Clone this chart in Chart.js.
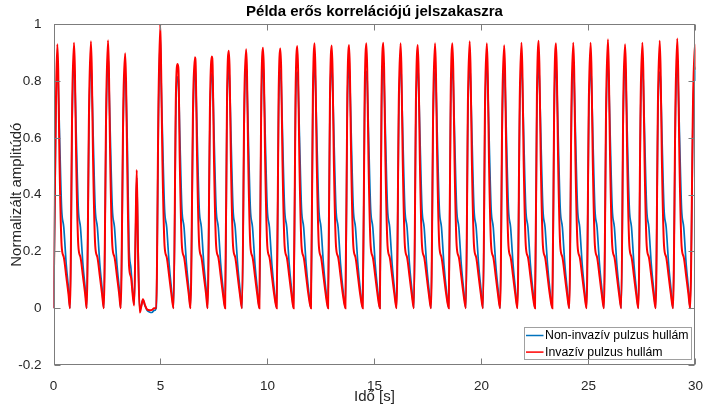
<!DOCTYPE html>
<html lang="hu">
<head>
    <meta charset="UTF-8">
    <title>Példa erős korrelációjú jelszakaszra</title>
    <script src="https://cdn.jsdelivr.net/npm/chart.js"></script>
    <style>
        html, body { margin: 0; padding: 0; background: #fff; }
        canvas { display: block; }
    </style>
</head>
<body>

<canvas id="pulseChart" width="708" height="408"></canvas>

<script>
    // beat onsets and peaks (s)
    const beatStart = [0, 0.77, 1.55, 2.35, 3.14, 4.80, 5.61, 6.40, 7.20, 8.02,
        8.81, 9.62, 10.43, 11.22, 12.03, 12.83, 13.64, 14.45, 15.25, 16.03,
        16.84, 17.64, 18.47, 19.27, 20.07, 20.87, 21.68, 22.50, 23.31, 24.10,
        24.91, 25.72, 26.53, 27.33, 28.14, 28.95, 29.75];
    const beatPeak = [0.18, 0.96, 1.75, 2.55, 3.35, 4.99, 5.80, 6.61, 7.40, 8.19,
        9.00, 9.79, 10.60, 11.39, 12.20, 13.00, 13.81, 14.62, 15.41, 16.22,
        17.02, 17.83, 18.64, 19.45, 20.25, 21.06, 21.87, 22.67, 23.48, 24.29,
        25.10, 25.91, 26.71, 27.52, 28.33, 29.15, 29.97];

    // peak heights: invasive (red) and non-invasive (blue)
    const redPeak = [0.93, 0.935, 0.94, 0.944, 0.898, 1.0, 0.86, 0.884, 0.887, 0.907,
        0.912, 0.917, 0.915, 0.924, 0.933, 0.925, 0.927, 0.933, 0.935, 0.933,
        0.927, 0.933, 0.933, 0.94, 0.933, 0.926, 0.935, 0.942, 0.933, 0.935,
        0.935, 0.947, 0.93, 0.935, 0.942, 0.95, 0.93];
    const bluePeak = [0.86, 0.847, 0.86, 0.89, 0.827, 0.96, 0.815, 0.85, 0.828, 0.84,
        0.851, 0.859, 0.84, 0.832, 0.859, 0.862, 0.853, 0.835, 0.863, 0.865,
        0.859, 0.84, 0.848, 0.859, 0.862, 0.84, 0.848, 0.853, 0.853, 0.848,
        0.842, 0.859, 0.859, 0.856, 0.832, 0.86, 0.85];

    // upstroke just before a peak: seconds before the peak and the level there
    const riseOffset = 0.08;
    const redRise = 0.75;
    const blueRise = 0.70;

    // decay after a peak: seconds after the peak and the level there
    const fallOffset = [0.04, 0.10, 0.20, 0.30, 0.42, 0.52];
    const redFall = [0.84, 0.52, 0.22, 0.18, 0.11, 0.05];
    const blueFall = [0.80, 0.62, 0.35, 0.285, 0.15, 0.07];

    // disturbed stretch after the 5th beat (3.4 s .. 4.8 s)
    const gapAfterBeat = 4;
    const gapTime = [3.39, 3.45, 3.53, 3.62, 3.71, 3.77, 3.84, 3.89, 3.95, 4.03,
        4.10, 4.18, 4.27, 4.38, 4.50, 4.60, 4.70];
    const gapRed = [0.80, 0.48, 0.15, 0.11, 0.04, 0.01, 0.30, 0.487, 0.20, -0.015,
        0.005, 0.032, 0.012, -0.005, -0.007, -0.006, 0.0];
    const gapBlue = [0.77, 0.58, 0.22, 0.14, 0.05, 0.015, 0.27, 0.46, 0.22, -0.008,
        0.008, 0.03, 0.01, -0.008, -0.014, -0.015, -0.008];

    const xTicks = [0, 5, 10, 15, 20, 25, 30];
    const xTickLabels = ['0', '5', '10', '15', '20', '25', '30'];
    const yTicks = [-0.2, 0, 0.2, 0.4, 0.6, 0.8, 1];
    const yTickLabels = ['-0.2', '0', '0.2', '0.4', '0.6', '0.8', '1'];

    // put the beats together into point lists
    const redData = [];
    const blueData = [];
    beatStart.forEach((t0, i) => {
        const tp = beatPeak[i];
        redData.push({x: t0, y: 0});
        blueData.push({x: t0, y: 0});
        if (i > 0) {
            redData.push({x: tp - riseOffset, y: redRise});
            blueData.push({x: tp - riseOffset, y: blueRise});
        }
        redData.push({x: tp, y: redPeak[i]});
        blueData.push({x: tp, y: bluePeak[i]});
        if (i === gapAfterBeat) {
            gapTime.forEach((t, j) => {
                redData.push({x: t, y: gapRed[j]});
                blueData.push({x: t, y: gapBlue[j]});
            });
        } else {
            fallOffset.forEach((dt, j) => {
                redData.push({x: tp + dt, y: redFall[j]});
                blueData.push({x: tp + dt, y: blueFall[j]});
            });
        }
    });

    const FONT = '"Liberation Sans", Arial, Helvetica, sans-serif';
    Chart.defaults.font.family = FONT;

    // matlab style box, inside ticks and the legend in the lower right corner
    const frame = {
        id: 'frame',
        afterDatasetsDraw(chart) {
            const {ctx, chartArea: a, scales: {x, y}} = chart;
            ctx.save();
            const L = Math.round(a.left) + 0.5, R = Math.round(a.right) - 0.5;
            const T = Math.round(a.top) + 0.5, B = Math.round(a.bottom) - 0.5;
            ctx.strokeStyle = '#7c7c7c';
            ctx.lineWidth = 1;
            ctx.strokeRect(L, T, R - L, B - T);
            ctx.beginPath();
            xTicks.forEach(v => {
                const px = Math.round(x.getPixelForValue(v)) + 0.5;
                ctx.moveTo(px, B); ctx.lineTo(px, B - 6);
                ctx.moveTo(px, T); ctx.lineTo(px, T + 6);
            });
            yTicks.forEach(v => {
                const py = Math.round(y.getPixelForValue(v)) + 0.5;
                ctx.moveTo(L, py); ctx.lineTo(L + 6, py);
                ctx.moveTo(R, py); ctx.lineTo(R - 6, py);
            });
            ctx.stroke();

            // legend
            ctx.font = '12.3px ' + FONT;
            const sets = chart.data.datasets;
            const w = Math.round(Math.max(...sets.map(d => ctx.measureText(d.label).width)) + 23);
            const h = 32;
            const bx = Math.round(a.right - 4 - w), by = Math.round(a.bottom - 6 - h);
            ctx.fillStyle = '#fff';
            ctx.fillRect(bx, by, w, h);
            ctx.strokeStyle = '#a0a0a0';
            ctx.lineWidth = 1;
            ctx.strokeRect(bx + 0.5, by + 0.5, w, h);
            sets.forEach((d, i) => {
                const cy = by + 8.5 + i * 16.6;
                ctx.strokeStyle = d.borderColor;
                ctx.lineWidth = 1.5;
                ctx.beginPath();
                ctx.moveTo(bx + 2, cy);
                ctx.lineTo(bx + 19.5, cy);
                ctx.stroke();
                ctx.fillStyle = '#000';
                ctx.textBaseline = 'middle';
                ctx.fillText(d.label, bx + 21, cy + 0.5);
            });
            ctx.restore();
        }
    };

    const ctx = document.getElementById('pulseChart').getContext('2d');
    new Chart(ctx, {
        type: 'line',
        data: {
            datasets: [{
                label: 'Non-invazív pulzus hullám',
                data: blueData,
                borderColor: '#0072BD',
                borderWidth: 1.7,
                order: 2
            }, {
                label: 'Invazív pulzus hullám',
                data: redData,
                borderColor: '#FF0000',
                borderWidth: 2,
                order: 1
            }]
        },
        options: {
            responsive: false,
            animation: false,
            devicePixelRatio: 1,
            layout: {padding: {left: 0, right: 10.5, top: 0, bottom: 0}},
            elements: {
                point: {radius: 0},
                line: {cubicInterpolationMode: 'monotone', fill: false}
            },
            plugins: {
                legend: {display: false},
                tooltip: {enabled: false},
                title: {
                    display: true,
                    text: 'Példa erős korrelációjú jelszakaszra',
                    fullSize: false,
                    color: '#000',
                    font: {size: 15, weight: 'bold'},
                    padding: {top: 3, bottom: 3.3}
                }
            },
            scales: {
                x: {
                    type: 'linear',
                    min: 0,
                    max: 30,
                    grid: {display: false},
                    border: {display: false},
                    afterBuildTicks: s => { s.ticks = xTicks.map(v => ({value: v})); },
                    ticks: {
                        color: '#262626',
                        font: {size: 13.5},
                        padding: 5,
                        maxRotation: 0,
                        autoSkip: false,
                        callback: (v, i) => xTickLabels[i]
                    },
                    title: {
                        display: true,
                        text: 'Idő [s]',
                        color: '#262626',
                        font: {size: 15},
                        padding: {top: 0, bottom: 2}
                    },
                    afterFit: s => { s.height = 43; }
                },
                y: {
                    type: 'linear',
                    min: -0.2,
                    max: 1,
                    grid: {display: false},
                    border: {display: false},
                    afterBuildTicks: s => { s.ticks = yTicks.map(v => ({value: v})); },
                    ticks: {
                        color: '#262626',
                        font: {size: 13.5},
                        padding: 4,
                        autoSkip: false,
                        callback: (v, i) => yTickLabels[i]
                    },
                    title: {
                        display: true,
                        text: 'Normalizált amplitúdó',
                        color: '#262626',
                        font: {size: 15},
                        padding: {top: 8, bottom: 0}
                    },
                    afterFit: s => { s.width = 53.5; }
                }
            }
        },
        plugins: [frame]
    });
</script>

</body>
</html>
